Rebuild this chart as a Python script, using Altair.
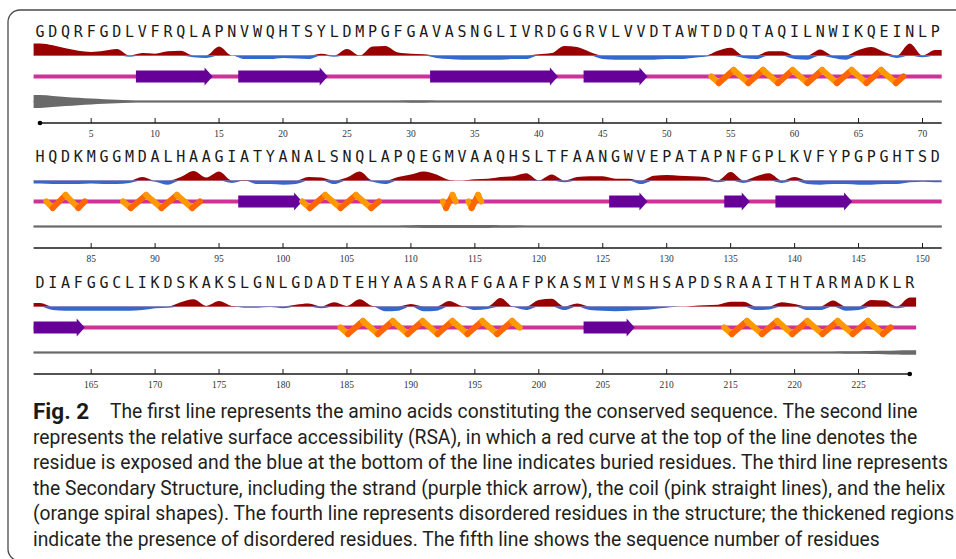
import altair as alt
import pandas as pd

# ---------------- data ----------------
SEQ_ROWS = [
    "GDQRFGDLVFRQLAPNVWQHTSYLDMPGFGAVASNGLIVRDGGRVLVVDTAWTDDQTAQILNWIKQEINLP",
    "HQDKMGGMDALHAAGIATYANALSNQLAPQEGMVAAQHSLTFAANGWVEPATAPNFGPLKVFYPGPGHTSD",
    "DIAFGGCLIKDSKAKSLGNLGDADTEHYAASARAFGAAFPKASMIVMSHSAPDSRAAITHTARMADKLR",
]
ROW_FIRST_RESIDUE = [1, 81, 161]

# relative surface accessibility (+ exposed / - buried), per residue
RSA_ROW1 = [1.0, 0.85, 0.6, 0.4, 0.3, 0.4, 0.55, -0.1, 0.2, 0.15,
            0.35, 0.4, -0.15, -0.2, 0.75, 0.0, -0.3, -0.3, -0.3, -0.2,
            -0.25, -0.3, 0.15, -0.1, 0.55, -0.05, 0.75, 0.8, 0.25, 0.15,
            0.1, -0.2, -0.3, -0.35, -0.35, -0.35, -0.35, -0.3, -0.3, 0.1,
            0.2, 0.8, 0.7, 0.3, -0.3, -0.35, -0.35, -0.35, -0.35, -0.3,
            -0.3, -0.2, -0.1, 0.4, 0.65, -0.2, -0.3, 0.35, 0.35, -0.3,
            -0.35, 0.5, -0.2, -0.35, 0.45, 0.7, 0.3, -0.2, 1.0, -0.15,
            0.45]
RSA_ROW2 = [-0.25, -0.3, -0.3, -0.3, -0.25, -0.3, -0.3, -0.2, 0.3, -0.1,
            -0.35, 0.3, 0.8, 0.25, 0.75, -0.2, 0.05, -0.3, -0.3, -0.35,
            -0.3, 0.3, 0.25, -0.3, 0.25, 0.75, -0.1, -0.3, 0.3, 0.5,
            0.75, 0.5, 0.05, 0.0, 0.1, 0.15, 0.3, 0.35, 0.6, -0.05,
            0.5, -0.15, 0.3, 0.35, 0.35, 0.15, 0.15, -0.3, 0.4, 0.45,
            0.4, 0.35, 0.3, -0.15, 0.7, -0.2, 0.35, 0.6, -0.2, 0.3,
            -0.3, -0.35, -0.3, -0.3, -0.35, -0.35, -0.3, -0.3, -0.15, -0.1,
            -0.15]
RSA_ROW3 = [0.3, -0.3, -0.35, -0.35, -0.35, -0.35, -0.35, -0.35, -0.3, -0.15,
            -0.1, 0.35, 0.6, 0.05, 0.45, 0.05, -0.1, -0.1, -0.05, -0.15,
            0.15, 0.25, -0.15, 0.35, 0.05, 0.6, 0.05, -0.4, -0.35, 0.2,
            -0.4, -0.35, 0.45, 0.05, -0.3, -0.2, 0.7, -0.05, -0.3, 0.55,
            0.65, -0.3, 0.25, -0.3, -0.35, -0.4, -0.35, -0.3, -0.2, -0.1,
            0.0, 0.05, 0.1, 0.15, 0.4, 0.4, -0.3, -0.25, 0.35, 0.2,
            -0.3, -0.3, 0.5, -0.35, -0.3, 0.55, 0.5, -0.15, 0.75]

# disorder (thickened line), per residue
DIS_ROW1 = [1.0, 0.85, 0.66, 0.5, 0.37, 0.26, 0.16, 0.08, 0.03, 0.0,
            0.0, 0.0, 0.0, 0.0, 0.0, 0.0, 0.0, 0.0, 0.0, 0.0,
            0.0, 0.0, 0.0, 0.0, 0.0, 0.0, 0.0, 0.02, 0.04, 0.05,
            0.05, 0.04, 0.02, 0.0, 0.0, 0.0, 0.0, 0.0, 0.0, 0.0,
            0.0, 0.0, 0.0, 0.0, 0.0, 0.0, 0.0, 0.0, 0.0, 0.0,
            0.0, 0.0, 0.0, 0.0, 0.0, 0.0, 0.0, 0.0, 0.0, 0.0,
            0.0, 0.0, 0.0, 0.0, 0.0, 0.0, 0.0, 0.0, 0.0, 0.0,
            0.0]
DIS_ROW2 = [0.0, 0.0, 0.0, 0.0, 0.0, 0.0, 0.0, 0.0, 0.0, 0.0,
            0.0, 0.0, 0.0, 0.0, 0.0, 0.0, 0.0, 0.0, 0.0, 0.0,
            0.0, 0.0, 0.0, 0.0, 0.0, 0.0, 0.0, 0.02, 0.04, 0.07,
            0.1, 0.12, 0.13, 0.13, 0.12, 0.1, 0.08, 0.05, 0.03, 0.01,
            0.0, 0.0, 0.0, 0.0, 0.0, 0.0, 0.0, 0.0, 0.0, 0.0,
            0.0, 0.0, 0.0, 0.0, 0.0, 0.0, 0.0, 0.0, 0.0, 0.0,
            0.0, 0.0, 0.0, 0.0, 0.0, 0.0, 0.0, 0.0, 0.0, 0.0,
            0.0]
DIS_ROW3 = [0.0, 0.0, 0.0, 0.0, 0.0, 0.0, 0.0, 0.0, 0.0, 0.0,
            0.0, 0.0, 0.0, 0.0, 0.0, 0.0, 0.0, 0.0, 0.0, 0.0,
            0.0, 0.0, 0.0, 0.0, 0.0, 0.0, 0.0, 0.0, 0.0, 0.0,
            0.0, 0.0, 0.0, 0.0, 0.0, 0.0, 0.0, 0.0, 0.0, 0.0,
            0.0, 0.0, 0.0, 0.0, 0.0, 0.0, 0.0, 0.0, 0.0, 0.0,
            0.0, 0.0, 0.0, 0.0, 0.0, 0.0, 0.0, 0.0, 0.0, 0.0,
            0.0, 0.02, 0.03, 0.05, 0.07, 0.1, 0.14, 0.2, 0.24]

# secondary structure: (row, first column, last column)
STRANDS = [(1, 9, 14), (1, 17, 23), (1, 32, 41), (1, 44, 48),
           (2, 17, 21), (2, 46, 48), (2, 55, 56), (2, 59, 64),
           (3, 1, 4), (3, 44, 47)]
HELICES = [(1, 54, 68), (2, 2, 4), (2, 8, 13), (2, 22, 27), (2, 33, 33),
           (2, 35, 35), (3, 25, 38), (3, 55, 67)]

TICK_COLUMNS = [5, 10, 15, 20, 25, 30, 35, 40, 45, 50, 55, 60, 65, 70]

CAPTION_BOLD = "Fig. 2"
CAPTION_LINES = [
    "The first line represents the amino acids constituting the conserved sequence. The second line",
    "represents the relative surface accessibility (RSA), in which a red curve at the top of the line denotes the",
    "residue is exposed and the blue at the bottom of the line indicates buried residues. The third line represents",
    "the Secondary Structure, including the strand (purple thick arrow), the coil (pink straight lines), and the helix",
    "(orange spiral shapes). The fourth line represents disordered residues in the structure; the thickened regions",
    "indicate the presence of disordered residues. The fifth line shows the sequence number of residues",
]

# ---------------- layout ----------------
W, H = 956, 559
COL_PX = 12.79
COL1_PX = 40.0
ROW_TOP = [0, 125, 251]
Y_SEQ, Y_RSA, Y_SS, Y_DIS, Y_AXIS, Y_LAB = 31.5, 55.5, 76.5, 101.5, 123.0, 134.0
RSA_PX = 12.0
DIS_HALF, DIS_PX = 0.9, 5.5
HELIX_AMP = 6.5
CAP_Y0, CAP_STEP = 412.0, 25.6
CAP_FONT = "Roboto, sans-serif"

xs = alt.Scale(domain=[1 - COL1_PX / COL_PX, 1 + (W - COL1_PX) / COL_PX], nice=False, zero=False)
ys = alt.Scale(domain=[0, H], reverse=True, nice=False, zero=False)

RSA = [RSA_ROW1, RSA_ROW2, RSA_ROW3]
DIS = [DIS_ROW1, DIS_ROW2, DIS_ROW3]

letters, rsa_rows, dis_rows, rows_info, ticks, dots = [], [], [], [], [], []
for r in range(3):
    seq = SEQ_ROWS[r]
    n = len(seq)
    top = ROW_TOP[r]
    for i, aa in enumerate(seq):
        letters.append({"col": i + 1, "y": top + Y_SEQ, "aa": aa})
    vals = RSA[r]
    cols = [0.5] + list(range(1, n + 1)) + [n + 0.5]
    vv = [vals[0]] + vals + [vals[-1]]
    dd = [DIS[r][0]] + DIS[r] + [DIS[r][-1]]
    for c, v, d in zip(cols, vv, dd):
        base = top + Y_RSA
        rsa_rows.append({"row": r, "col": c, "base": base,
                         "pos": base - max(v, 0) * RSA_PX,
                         "neg": base - min(v, 0) * RSA_PX})
        db = top + Y_DIS
        half = DIS_HALF + d * DIS_PX
        dis_rows.append({"row": r, "col": c, "lo": db - half, "hi": db + half})
    axis_start = 1 if r == 0 else 0.5
    axis_end = n if r == 2 else n + 0.5
    rows_info.append({"row": r, "x0": 0.5, "x1": n + 0.5,
                      "rsa": top + Y_RSA, "ss": top + Y_SS, "dis": top + Y_DIS,
                      "ax": top + Y_AXIS, "ax0": axis_start, "ax1": axis_end})
    for c in TICK_COLUMNS:
        if c <= n:
            ticks.append({"col": c, "y": top + Y_AXIS, "y2": top + Y_AXIS - 5,
                          "ly": top + Y_LAB, "label": str(ROW_FIRST_RESIDUE[r] - 1 + c)})
    if r == 0:
        dots.append({"col": 1, "y": top + Y_AXIS})
    if r == 2:
        dots.append({"col": n, "y": top + Y_AXIS})

letters = pd.DataFrame(letters)
rsa_df = pd.DataFrame(rsa_rows)
dis_df = pd.DataFrame(dis_rows)
info = pd.DataFrame(rows_info)
ticks = pd.DataFrame(ticks)
dots = pd.DataFrame(dots)

strand_body, strand_head = [], []
for r, s, e in STRANDS:
    yc = ROW_TOP[r - 1] + Y_SS
    strand_body.append({"x": s - 0.5, "x2": e + 0.5 - 0.55, "y": yc - 6, "y2": yc + 6})
    strand_head.append({"x": e + 0.5, "y": yc})
strand_body = pd.DataFrame(strand_body)
strand_head = pd.DataFrame(strand_head)

helix_pts = []
seg_id = 0
for r, s, e in HELICES:
    yc = ROW_TOP[r - 1] + Y_SS
    nres = e - s + 1
    nx = max(2, round(2 * nres / 2.3))
    x0, x1 = s - 0.5, e + 0.5
    h = (x1 - x0) / nx
    pts = [(x0, yc)]
    for k in range(nx):
        pts.append((x0 + h / 2 + k * h, yc + HELIX_AMP if k % 2 == 0 else yc - HELIX_AMP))
    pts.append((x1, yc))
    for j in range(len(pts) - 1):
        (xa, ya), (xb, yb) = pts[j], pts[j + 1]
        tone = "light" if yb > ya else "dark"
        helix_pts.append({"seg": seg_id, "k": 0, "x": xa, "y": ya, "tone": tone})
        helix_pts.append({"seg": seg_id, "k": 1, "x": xb, "y": yb, "tone": tone})
        seg_id += 1
helix_df = pd.DataFrame(helix_pts)

caption_df = pd.DataFrame({"text": CAPTION_LINES,
                           "y": [CAP_Y0 + i * CAP_STEP for i in range(len(CAPTION_LINES))]})

# ---------------- chart ----------------
def X(f):
    return alt.X(f, type="quantitative", scale=xs, axis=None)

def Y(f):
    return alt.Y(f, type="quantitative", scale=ys, axis=None)

border = alt.Chart(pd.DataFrame({"a": [0]})).mark_rect(
    cornerRadius=12, fillOpacity=0, stroke="#4a4a4a", strokeWidth=1.3
).encode(x=alt.value(8), x2=alt.value(990), y=alt.value(10), y2=alt.value(561))

seq_layer = alt.Chart(letters).mark_text(
    font="DejaVu Sans Mono", fontSize=15, color="#1a1a1a", baseline="middle", align="center"
).encode(x=X("col"), y=Y("y"), text="aa:N")

rsa_base = alt.Chart(info).mark_rule(color="#e3aeb4", strokeWidth=1.2).encode(
    x=X("x0"), x2="x1:Q", y=Y("rsa"))
rsa_pos = alt.Chart(rsa_df).mark_area(interpolate="monotone", color="#990000").encode(
    x=X("col"), y=Y("pos"), y2="base:Q", detail="row:N")
rsa_neg = alt.Chart(rsa_df).mark_area(interpolate="monotone", color="#3568cc").encode(
    x=X("col"), y=Y("neg"), y2="base:Q", detail="row:N")

coil = alt.Chart(info).mark_rule(color="#cc3399", strokeWidth=4).encode(
    x=X("x0"), x2="x1:Q", y=Y("ss"))
s_body = alt.Chart(strand_body).mark_rect(color="#660099").encode(
    x=X("x"), x2="x2:Q", y=Y("y"), y2="y2:Q")
s_head = alt.Chart(strand_head).mark_point(
    shape="M-0.9,-1L0,0L-0.9,1Z", size=324, filled=True, color="#660099", opacity=1, strokeWidth=0
).encode(x=X("x"), y=Y("y"))
helix = alt.Chart(helix_df).mark_line(strokeWidth=6, strokeCap="round").encode(
    x=X("x"), y=Y("y"), detail="seg:N", order="k:Q",
    color=alt.Color("tone:N", scale=alt.Scale(domain=["light", "dark"], range=["#ff9900", "#ff6600"]), legend=None))

dis_line = alt.Chart(info).mark_rule(color="#777777", strokeWidth=1.6).encode(
    x=X("x0"), x2="x1:Q", y=Y("dis"))
dis_area = alt.Chart(dis_df).mark_area(interpolate="monotone", color="#6a6a6a").encode(
    x=X("col"), y=Y("lo"), y2="hi:Q", detail="row:N")

axis_line = alt.Chart(info).mark_rule(color="#1a1a1a", strokeWidth=1.4).encode(
    x=X("ax0"), x2="ax1:Q", y=Y("ax"))
tick_marks = alt.Chart(ticks).mark_rule(color="#1a1a1a", strokeWidth=1).encode(
    x=X("col"), y=Y("y"), y2="y2:Q")
tick_labels = alt.Chart(ticks).mark_text(
    font="Liberation Serif", fontSize=9.5, color="#333333", baseline="middle", align="center"
).encode(x=X("col"), y=Y("ly"), text="label:N")
end_dots = alt.Chart(dots).mark_point(filled=True, size=22, color="#000000", opacity=1).encode(
    x=X("col"), y=Y("y"))

cap_bold = alt.Chart(caption_df.head(1)).mark_text(
    font=CAP_FONT, fontSize=22.5, fontWeight="bold", color="#1a1a1a", align="left", baseline="middle"
).encode(x=alt.value(33), y=Y("y"), text=alt.value(CAPTION_BOLD))
cap_first = alt.Chart(caption_df.head(1)).mark_text(
    font=CAP_FONT, fontSize=19.3, color="#231f20", align="left", baseline="middle"
).encode(x=alt.value(110), y=Y("y"), text="text:N")
cap_rest = alt.Chart(caption_df.iloc[1:]).mark_text(
    font=CAP_FONT, fontSize=19.3, color="#231f20", align="left", baseline="middle"
).encode(x=alt.value(33), y=Y("y"), text="text:N")

chart = alt.layer(
    border, seq_layer, rsa_base, rsa_pos, rsa_neg, coil, s_body, s_head, helix,
    dis_line, dis_area, axis_line, tick_marks, tick_labels, end_dots,
    cap_bold, cap_first, cap_rest
).properties(width=W, height=H, padding=0, autosize="none", background="white"
).configure_view(stroke=None)

chart.save("out.html", embed_options={"renderer": "svg", "actions": False})
